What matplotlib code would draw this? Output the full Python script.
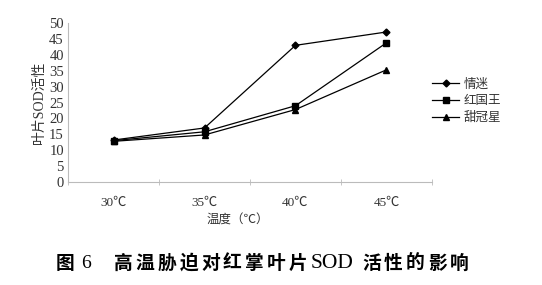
import matplotlib.pyplot as plt
from matplotlib.ticker import FixedLocator

cats = ['30℃', '35℃', '40℃', '45℃']
qingmi = [13.2, 17.0, 43.0, 47.2]
hongguowang = [13.0, 15.8, 24.0, 43.8]
tianguanxing = [12.8, 14.8, 22.8, 35.3]
names = ['情迷', '红国王', '甜冠星']

cjk = ['Noto Sans CJK SC', 'DejaVu Sans']
serif = ['Liberation Serif', 'Noto Sans CJK SC']

fig = plt.figure(figsize=(5.42, 2.85), dpi=100)
ax = fig.add_axes([0.1255, 0.3614, 0.6715, 0.5576])

x = range(len(cats))
ax.plot(x, qingmi, color='black', lw=0.9, marker='D', ms=3.5, label=names[0])
ax.plot(x, hongguowang, color='black', lw=0.9, marker='s', ms=4.5, label=names[1])
ax.plot(x, tianguanxing, color='black', lw=0.9, marker='^', ms=4.5, label=names[2])

ax.set_xlim(-0.5, 3.5)
ax.set_ylim(0, 50)
yt = list(range(0, 51, 5))
ax.set_yticks(yt)
ax.set_yticklabels([str(v) for v in yt], family=serif, fontsize=10.5, color='#333333')
ax.set_xticks(list(x))
ax.set_xticklabels(cats, family=serif, fontsize=9.5, color='#333333')
ax.xaxis.set_minor_locator(FixedLocator([-0.5, 0.5, 1.5, 2.5, 3.5]))
ax.tick_params(axis='x', which='major', length=0, pad=11)
ax.tick_params(axis='x', which='minor', length=5, color='#bbbbbb', direction='inout')
ax.tick_params(axis='y', length=0, pad=3)

for s in ['top', 'right']:
    ax.spines[s].set_visible(False)
for s in ['left', 'bottom']:
    ax.spines[s].set_color('#bbbbbb')
    ax.spines[s].set_linewidth(0.8)

ax.set_ylabel('叶片SOD活性', family=serif, fontsize=10, color='#333333', labelpad=2)
ax.set_xlabel('温度（℃）', family=cjk, fontsize=9, color='#333333')
ax.xaxis.set_label_coords(0.467, -0.2)

leg = ax.legend(loc='center left', bbox_to_anchor=(1.0, 0.51), frameon=False,
                prop={'family': cjk, 'size': 9}, handlelength=2.2,
                handletextpad=0.3, labelspacing=0.3, borderpad=0, borderaxespad=0)
for t in leg.get_texts():
    t.set_color('#333333')

# caption, drawn glyph by glyph to get the wide spacing of the printed figure
W = 542.0
yc = 0.077
bold = dict(va='center', ha='left', fontsize=13.5, fontweight='bold')
fig.text(56 / W, yc, '图', family=cjk, **bold)
fig.text(81 / W, yc, '6', family=serif, fontsize=14, va='center', ha='left')
for i, ch in enumerate('高温胁迫对红掌叶片'):
    fig.text((114 + i * 21.8) / W, yc, ch, family=cjk, **bold)
fig.text(311 / W, yc, 'SOD', family=serif, fontsize=15.5, va='center', ha='left')
for i, ch in enumerate('活性的影响'):
    fig.text((362 + i * 22.0) / W, yc, ch, family=cjk, **bold)

fig.savefig('out.png', dpi=100)
